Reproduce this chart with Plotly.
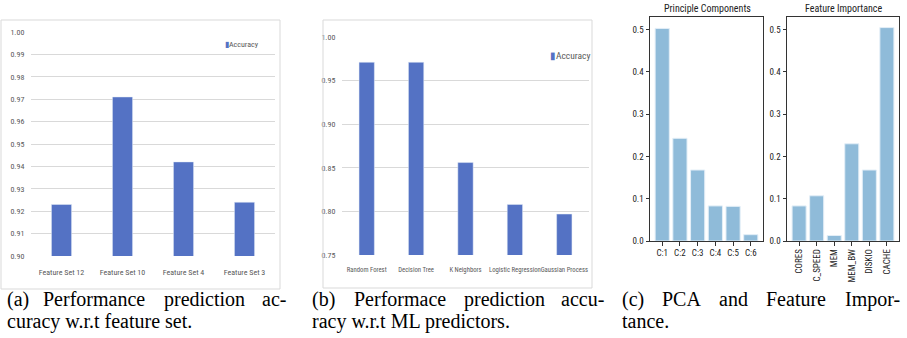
import plotly.graph_objects as go

W, H = 907, 338

# ---- data ----
feat_sets = ["Feature Set 12", "Feature Set 10", "Feature Set 4", "Feature Set 3"]
feat_acc = [0.923, 0.971, 0.942, 0.924]

predictors = ["Random Forest", "Decision Tree", "K Neighbors", "Logistic Regression", "Gaussian Process"]
pred_acc = [0.971, 0.971, 0.856, 0.808, 0.797]

pc_labels = ["C:1", "C:2", "C:3", "C:4", "C:5", "C:6"]
pc_values = [0.503, 0.243, 0.168, 0.083, 0.082, 0.015]

fi_labels = ["CORES", "C_SPEED", "MEM", "MEM_BW", "DISKIO", "CACHE"]
fi_values = [0.083, 0.107, 0.013, 0.230, 0.168, 0.505]

a_ticks = [0.90, 0.91, 0.92, 0.93, 0.94, 0.95, 0.96, 0.97, 0.98, 0.99, 1.00]
b_ticks = [0.75, 0.80, 0.85, 0.90, 0.95, 1.00]
c_ticks = [0.0, 0.1, 0.2, 0.3, 0.4, 0.5]

EXCEL_BLUE = "#5472c4"
MPL_BLUE = "#8fbbd9"
NARROW = "Roboto Condensed, sans-serif"
MPLF = "Roboto Condensed, DejaVu Sans, sans-serif"
SERIF = "Liberation Serif, Times New Roman, serif"


def px(x):
    return x / W


def py(y):
    return 1 - y / H


fig = go.Figure()

fig.add_trace(go.Bar(x=feat_sets, y=feat_acc, width=0.33, marker_color=EXCEL_BLUE,
                     xaxis="x", yaxis="y", showlegend=False, name="Accuracy"))
fig.add_trace(go.Bar(x=predictors, y=pred_acc, width=0.31, marker_color=EXCEL_BLUE,
                     xaxis="x2", yaxis="y2", showlegend=False, name="Accuracy"))
fig.add_trace(go.Bar(x=list(range(len(pc_values))), y=pc_values, width=0.8,
                     marker=dict(color=MPL_BLUE, line=dict(color="#e3eef7", width=1)),
                     xaxis="x3", yaxis="y3", showlegend=False))
fig.add_trace(go.Bar(x=list(range(len(fi_values))), y=fi_values, width=0.8,
                     marker=dict(color=MPL_BLUE, line=dict(color="#e3eef7", width=1)),
                     xaxis="x4", yaxis="y4", showlegend=False))

excel_x = dict(showgrid=False, zeroline=False, showline=False, ticks="outside", ticklen=8,
               tickcolor="rgba(0,0,0,0)", tickangle=0, automargin=False,
               tickfont=dict(family=NARROW, size=8, color="#595959"), fixedrange=True)
excel_y = dict(showgrid=True, gridcolor="#d9d9d9", gridwidth=1, zeroline=False, showline=False,
               ticks="outside", ticklen=4, tickcolor="rgba(0,0,0,0)", tickformat=".2f",
               automargin=False,
               tickfont=dict(family=NARROW, size=8, color="#595959"), fixedrange=True)
mpl_ax = dict(showline=True, linecolor="#333333", linewidth=1, mirror=True, ticks="outside",
              ticklen=3.5, tickwidth=0.8, tickcolor="#333333", showgrid=False, zeroline=False,
              automargin=False,
              tickfont=dict(family=MPLF, size=9, color="#222222"), fixedrange=True)

fig.update_layout(
    width=W, height=H, margin=dict(l=0, r=0, t=0, b=0, autoexpand=False),
    paper_bgcolor="white", plot_bgcolor="white", showlegend=False,
    xaxis=dict(excel_x, domain=[px(31), px(275)], anchor="y"),
    yaxis=dict(excel_y, domain=[py(256), py(32)], range=[0.90, 1.00], tickvals=a_ticks, anchor="x"),
    xaxis2=dict(excel_x, domain=[px(342), px(589)], anchor="y2",
                tickfont=dict(family=NARROW, size=6.7, color="#595959")),
    yaxis2=dict(excel_y, domain=[py(255), py(37)], range=[0.75, 1.00], tickvals=b_ticks, anchor="x2"),
    xaxis3=dict(mpl_ax, domain=[px(650), px(763)], anchor="y3", range=[-0.69, 5.69],
                tickvals=list(range(len(pc_labels))), ticktext=pc_labels),
    yaxis3=dict(mpl_ax, domain=[py(241), py(17)], anchor="x3", range=[0, 0.53],
                tickvals=c_ticks, tickformat=".1f"),
    xaxis4=dict(mpl_ax, domain=[px(787), px(899)], anchor="y4", range=[-0.69, 5.69],
                tickvals=list(range(len(fi_labels))), ticktext=fi_labels, tickangle=-90),
    yaxis4=dict(mpl_ax, domain=[py(241), py(17)], anchor="x4", range=[0, 0.53],
                tickvals=c_ticks, tickformat=".1f"),
)

# chart-area borders for the two Excel panels
for x0, x1, y0, y1 in [(1, 280, 20, 289), (323, 592, 20, 288)]:
    fig.add_shape(type="rect", xref="paper", yref="paper", x0=px(x0), x1=px(x1),
                  y0=py(y1), y1=py(y0), line=dict(color="#d9d9d9", width=1))

ann = []
# legends
ann.append(dict(x=px(223), y=py(44), text=f"<span style='color:{EXCEL_BLUE}'>▮</span>Accuracy",
                font=dict(family=NARROW, size=8, color="#595959")))
ann.append(dict(x=px(548), y=py(56), text=f"<span style='color:{EXCEL_BLUE}'>▮</span>Accuracy",
                font=dict(family=NARROW, size=9.5, color="#595959")))
# subplot titles for (c)
ann.append(dict(x=px(707), y=py(8), text="Principle Components", xanchor="center",
                font=dict(family=MPLF, size=10, color="#222222")))
ann.append(dict(x=px(843), y=py(8), text="Feature Importance", xanchor="center",
                font=dict(family=MPLF, size=10, color="#222222")))

# captions (justified first lines placed word by word)
cap_font = dict(family=SERIF, size=20, color="black")
line1 = [
    (5, "(a)"), (41, "Performance"), (162, "prediction"), (260, "ac-"),
    (310, "(b)"), (352, "Performace"), (462, "prediction"), (559, "accu-"),
    (620, "(c)"), (660, "PCA"), (717, "and"), (764, "Feature"), (843, "Impor-"),
]
for x, t in line1:
    ann.append(dict(x=px(x), y=py(299), text=t, font=cap_font))
for x, t in [(5, "curacy w.r.t feature set."), (310, "racy w.r.t ML predictors."), (620, "tance.")]:
    ann.append(dict(x=px(x), y=py(321), text=t, font=cap_font))

for a in ann:
    a.setdefault("xanchor", "left")
    a.update(xref="paper", yref="paper", yanchor="middle", showarrow=False)
fig.update_layout(annotations=ann)

fig.write_html("out.html", config={"displayModeBar": False},
               post_script="document.body.style.margin='0px';")
